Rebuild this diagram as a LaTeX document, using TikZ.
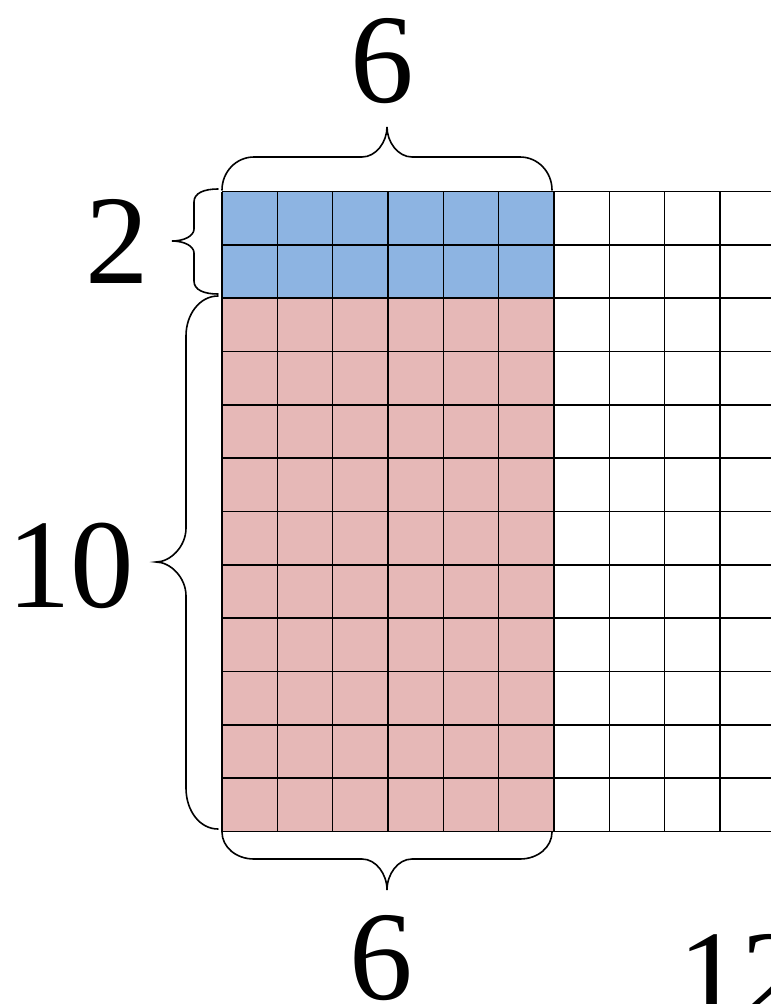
\documentclass[tikz,border=0pt]{standalone}
\usepackage{fontspec}
\setmainfont{Liberation Serif}
\definecolor{cellblue}{HTML}{8DB4E2}
\definecolor{cellpink}{HTML}{E6B8B7}
\begin{document}
\begin{tikzpicture}[x=1pt,y=-1pt,
  gridline/.style={line width=1.6pt},
  bracepath/.style={line width=1.6pt, line cap=round},
  numlabel/.style={inner sep=0pt, anchor=base, font=\fontsize{127}{127}\selectfont}]
\useasboundingbox (0,0) rectangle (771,1004);
\clip (0,0) rectangle (771,1004);
\def\cw{55.333}
\def\ch{53.333}
% coloured cells
\fill[cellblue] (222,191.5) rectangle (554,298.2);
\fill[cellpink] (222,298.2) rectangle (554,831.5);
% grid
\foreach \i in {0,...,12} \draw[gridline] (222+\i*\cw,191.5) -- (222+\i*\cw,831.5);
\foreach \j in {0,...,12} \draw[gridline] (222,191.5+\j*\ch) -- (886,191.5+\j*\ch);
% braces
\draw[bracepath] (222,190) .. controls (222,172) and (236,157) .. (254,157) -- (362,157)
  .. controls (376,157) and (387,142) .. (387,127)
  .. controls (387,142) and (398,157) .. (412,157) -- (520,157)
  .. controls (538,157) and (552,172) .. (552,190);
\draw[bracepath] (222,832) .. controls (222,847) and (236,859) .. (254,859) -- (362,859)
  .. controls (376,859) and (387,874) .. (387,890)
  .. controls (387,874) and (398,859) .. (412,859) -- (520,859)
  .. controls (538,859) and (552,847) .. (552,832);
\draw[bracepath] (218,189) .. controls (204,189) and (194,193) .. (194,202) -- (194,229)
  .. controls (194,236) and (184,241) .. (172,241)
  .. controls (184,241) and (194,246) .. (194,253) -- (194,281)
  .. controls (194,290) and (204,294) .. (218,294);
\draw[bracepath] (218,296) .. controls (200,296) and (186,314) .. (186,336) -- (186,528)
  .. controls (186,547) and (170,562) .. (156,562)
  .. controls (170,562) and (186,577) .. (186,596) -- (186,788)
  .. controls (186,811) and (200,829) .. (218,829);
% labels
\node[numlabel] (topsix) at (382,102) {6};
\node[numlabel] (two) at (117.5,283) {2};
\node[numlabel] (ten) at (71,607) {10};
\node[numlabel] (bottomsix) at (381.5,999) {6};
\node[numlabel] (twelve) at (741.5,1018) {12};
\end{tikzpicture}
\end{document}
